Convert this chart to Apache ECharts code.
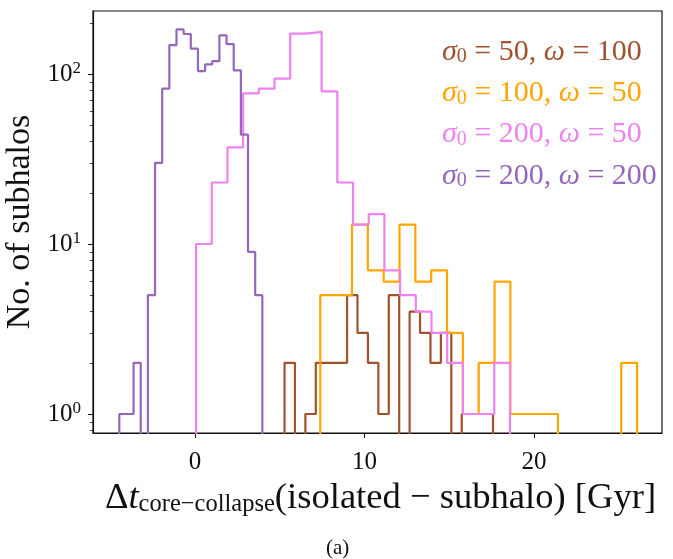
<!DOCTYPE html>
<html>
<head>
<meta charset="utf-8">
<script src="https://cdn.jsdelivr.net/npm/echarts@6/dist/echarts.min.js"></script>
<style>html,body{margin:0;padding:0;background:#fff}#chart{width:673px;height:559px}</style>
</head>
<body>
<div id="chart"></div>
<script>
// ---- data ----
const sigma0Values = [50, 100, 200, 200];
const omegaValues = [100, 50, 50, 200];
const seriesColors = ['#a0522d', '#ffa500', '#ee82ee', '#9467bd'];

// histogram bin ranges [first edge, last edge] in Gyr (20 equal bins each)
const brownRange = [5.28, 17.58];
const orangeRange = [7.39, 26.08];
const pinkRange = [0.06, 18.58];
const purpleRange = [-4.47, 3.97];

// counts per bin
const brownCounts = [2, 0, 1, 2, 2, 2, 5, 3, 2, 1, 5, 0, 4, 3, 2, 3, 0, 1, 1, 1];
const orangeCounts = [5, 5, 13, 7, 6, 13, 6, 7, 3, 1, 2, 6, 1, 1, 1, 0, 0, 0, 0, 2];
const pinkCounts = [10, 23, 37, 77, 82, 94, 173, 177, 79, 23, 13, 15, 7, 5, 4, 3, 2, 1, 1, 2];
const purpleCounts = [1, 1, 2, 0, 5, 30, 82, 148, 183, 172, 141, 104, 114, 119, 169, 150, 105, 44, 9, 5];

const xTicks = [0, 10, 20];
const yTicks = [1, 10, 100];
const yMinorTicks = [0.8, 0.9, 2, 3, 4, 5, 6, 7, 8, 9, 20, 30, 40, 50, 60, 70, 80, 90, 200];

const xMin = -6.02, xMax = 27.55;
const yMin = 0.773, yMax = 234.8;

// ---- build step outlines from bins ----
const FLOOR = 0.3; // below the axis minimum: empty bins drop to the bottom
function stepOutline(counts, range) {
  const n = counts.length;
  const w = (range[1] - range[0]) / n;
  const pts = [[range[0], FLOOR]];
  counts.forEach(function (c, i) {
    const y = c > 0 ? c : FLOOR;
    const x0 = range[0] + i * w;
    pts.push([x0, y], [x0 + w, y]);
  });
  pts.push([range[1], FLOOR]);
  return pts;
}

const names = sigma0Values.map(function (s, i) { return 'σ0 = ' + s + ', ω = ' + omegaValues[i]; });
const allCounts = [brownCounts, orangeCounts, pinkCounts, purpleCounts];
const allRanges = [brownRange, orangeRange, pinkRange, purpleRange];

const FONT = 'Liberation Serif';
const legendRich = {};
seriesColors.forEach(function (c, i) {
  legendRich['it' + i] = { color: c, fontFamily: FONT, fontStyle: 'italic', fontSize: 30, lineHeight: 30 };
  legendRich['sb' + i] = { color: c, fontFamily: FONT, fontSize: 20, lineHeight: 19, verticalAlign: 'bottom' };
  legendRich['n' + i] = { color: c, fontFamily: FONT, fontSize: 30, lineHeight: 30 };
});

const chart = echarts.init(document.getElementById('chart'), null, { renderer: 'canvas' });
chart.setOption({
  animation: false,
  backgroundColor: '#fff',
  grid: { left: 93, top: 11, right: 11, bottom: 126, outerBoundsMode: 'none', containLabel: false,
          show: true, borderColor: '#111', borderWidth: 1.2, backgroundColor: 'transparent' },
  legend: {
    orient: 'vertical', left: 432, top: 32, itemGap: 11.3, itemWidth: 0, itemHeight: 0,
    selectedMode: false, icon: 'none',
    data: names.map(function (n) { return { name: n, icon: 'none' }; }),
    formatter: function (name) {
      const i = names.indexOf(name);
      return '{it' + i + '|σ}{sb' + i + '|0}{n' + i + '| = ' + sigma0Values[i] + ', }{it' + i + '|ω}{n' + i + '| = ' + omegaValues[i] + '}';
    },
    textStyle: { rich: legendRich }
  },
  xAxis: {
    type: 'value', min: xMin, max: xMax,
    axisLine: { show: true, onZero: false, lineStyle: { color: '#111', width: 1.2 } },
    axisTick: { show: true, length: 5, customValues: xTicks, lineStyle: { color: '#111', width: 1 } },
    axisLabel: { customValues: xTicks, color: '#111', fontFamily: FONT, fontSize: 25, margin: 17 },
    splitLine: { show: false },
    name: '{d|Δ}{i|t}{s|core−collapse}{n|(isolated − subhalo) [Gyr]}',
    nameLocation: 'middle', nameGap: 44,
    nameTextStyle: {
      color: '#111', padding: [0, 0, 0, 6],
      rich: {
        d: { fontFamily: FONT, fontSize: 36.6, lineHeight: 38, color: '#111' },
        i: { fontFamily: FONT, fontStyle: 'italic', fontSize: 36.6, lineHeight: 38, color: '#111' },
        s: { fontFamily: FONT, fontSize: 24.5, lineHeight: 27, verticalAlign: 'bottom', color: '#111' },
        n: { fontFamily: FONT, fontSize: 36.6, lineHeight: 38, color: '#111' }
      }
    }
  },
  yAxis: [{
    type: 'log', logBase: 10, min: yMin, max: yMax,
    axisLine: { show: true, onZero: false, lineStyle: { color: '#111', width: 1.2 } },
    axisTick: { show: true, length: 5, customValues: yTicks, lineStyle: { color: '#111', width: 1 } },
    axisLabel: {
      customValues: yTicks, margin: 12, color: '#111', fontFamily: FONT, fontSize: 25,
      formatter: function (v) { return '{b|10}{e|' + Math.round(Math.log10(v)) + '}'; },
      rich: {
        b: { fontFamily: FONT, fontSize: 25, lineHeight: 28, color: '#111' },
        e: { fontFamily: FONT, fontSize: 17, lineHeight: 17, verticalAlign: 'top', color: '#111' }
      }
    },
    splitLine: { show: false },
    name: 'No. of subhalos', nameLocation: 'middle', nameGap: 46, nameRotate: 90,
    nameTextStyle: { color: '#111', fontFamily: FONT, fontSize: 34 }
  }, {
    type: 'log', logBase: 10, min: yMin, max: yMax, position: 'left',
    axisLine: { show: false, onZero: false },
    axisTick: { show: true, length: 3, customValues: yMinorTicks, lineStyle: { color: '#111', width: 0.8 } },
    axisLabel: { show: false },
    splitLine: { show: false }
  }],
  graphic: [{
    type: 'text', left: 326, top: 538,
    style: { text: '(a)', fontFamily: FONT, fontSize: 21, fill: '#111' }
  }],
  series: names.map(function (n, i) {
    return {
      name: n, type: 'line', xAxisIndex: 0, yAxisIndex: 0,
      data: stepOutline(allCounts[i], allRanges[i]),
      showSymbol: false, symbol: 'none', clip: true,
      lineStyle: { color: seriesColors[i], width: 2.2 },
      itemStyle: { color: seriesColors[i] },
      emphasis: { disabled: true }
    };
  })
});
</script>
</body>
</html>
